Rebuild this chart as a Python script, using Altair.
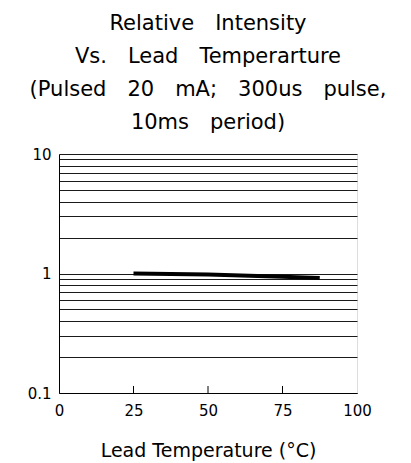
import altair as alt
import pandas as pd

# Data
temps = [25, 50, 75, 87.5]
intensity = [1.0, 0.98, 0.94, 0.915]

grid_values = [0.1, 0.2, 0.3, 0.4, 0.5, 0.6, 0.7, 0.8, 0.9,
               1, 2, 3, 4, 5, 6, 7, 8, 9, 10]
x_tick_values = [25, 50, 75]
x_label_values = [0, 25, 50, 75, 100]

EM = "\u2003"  # wide word gap, like the reference's stroke font
title_lines = [
    "Relative" + EM + "Intensity",
    "Vs." + EM + "Lead" + EM + "Temperarture",
    "(Pulsed" + EM + "20" + EM + "mA;" + EM + "300us" + EM + "pulse,",
    "10ms" + EM + "period)",
]

FONT = "DejaVu Sans"
W, H = 298, 239

df = pd.DataFrame({"temp": temps, "intensity": intensity})
ticks_df = pd.DataFrame({"t": x_tick_values})

xscale = alt.Scale(domain=[0, 100], nice=False)
yscale = alt.Scale(type="log", domain=[0.1, 10], nice=False)

line = alt.Chart(df).mark_line(color="black", strokeWidth=4).encode(
    x=alt.X("temp:Q", scale=xscale,
            axis=alt.Axis(values=x_label_values, title="Lead Temperature (°C)",
                          grid=False, ticks=False, domainColor="black",
                          labelFlush=False,
                          labelFont=FONT, labelFontSize=15, labelColor="black",
                          labelPadding=10, titleFont=FONT, titleFontSize=19,
                          titleFontWeight="normal", titleColor="black",
                          titlePadding=23)),
    y=alt.Y("intensity:Q", scale=yscale,
            axis=alt.Axis(values=grid_values, title=None, grid=True,
                          gridColor="#1a1a1a", gridWidth=1, ticks=False,
                          domainColor="black", labelFlush=False,
                          labelExpr="(datum.value == 0.1 || datum.value == 1 || datum.value == 10) ? format(datum.value, '~g') : ''",
                          labelFont=FONT, labelFontSize=15, labelColor="black",
                          labelPadding=8)),
)

xticks = alt.Chart(ticks_df).mark_rule(color="black", strokeWidth=1).encode(
    x=alt.X("t:Q", scale=xscale),
    y=alt.value(H - 7),
    y2=alt.value(H),
)

chart = alt.layer(line, xticks).properties(
    width=W, height=H,
    title=alt.TitleParams(text=title_lines, font=FONT, fontSize=21,
                          fontWeight="normal", color="black", lineHeight=33,
                          anchor="middle", frame="group", offset=14),
    autosize=alt.AutoSizeParams(type="none"),
    padding={"left": 51, "top": 146, "right": 46, "bottom": 72},
).configure_view(stroke="#888", strokeWidth=1).configure(background="white")

chart.save("out.html", embed_options={"renderer": "svg", "actions": False})
